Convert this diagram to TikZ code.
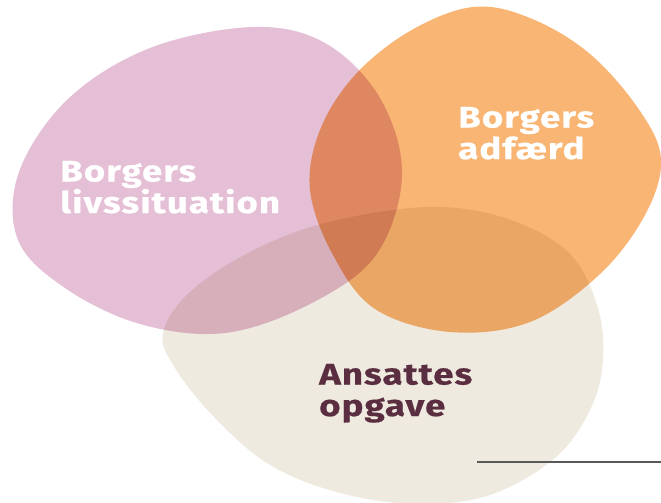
\documentclass[tikz,border=0pt]{standalone}
\usepackage{fontspec}
\newfontfamily\labfont[FakeStretch=1.23,LetterSpace=3.5,BoldFeatures={FakeStretch=1.23,LetterSpace=3.5,FakeBold=0.6}]{Fira Sans}
\definecolor{blobpink}{HTML}{E5BFD5}
\definecolor{bloborange}{HTML}{F9B573}
\definecolor{blobbeige}{HTML}{EFEAE0}
\definecolor{maroon}{HTML}{5A2E40}
\begin{document}
\begin{tikzpicture}[x=1pt,y=-1pt,
  lab/.style={font=\labfont\fontsize{29.8}{31.5}\selectfont\bfseries,align=left,inner sep=0pt,anchor=base west}]
\useasboundingbox (0,0) rectangle (661,503);
\begin{scope}[blend group=multiply]
\fill[blobpink] plot[smooth cycle,tension=0.6] coordinates {
 (253,27) (150,48) (68,99) (19,172) (18,240) (65,288) (140,324) (225,333)
 (310,304) (376,255) (402,175) (380,98) (325,43)};
\fill[bloborange] plot[smooth cycle,tension=0.6] coordinates {
 (473,7) (410,31) (355,75) (320,130) (310,190) (333,255) (375,309) (450,332)
 (530,322) (600,274) (645,215) (661,160) (640,111) (590,54) (530,18)};
\fill[blobbeige] plot[smooth cycle,tension=0.6] coordinates {
 (427,207) (505,218) (568,252) (597,305) (603,360) (590,410) (555,458)
 (490,495) (417,504) (340,493) (270,465) (215,418) (175,368) (163,333)
 (190,292) (250,252) (325,223)};
\end{scope}
\node[lab,text=white] (livs) at (60,213) {Borgers\\livssituation};
\node[lab,text=white] (adf) at (458,159) {Borgers\\adfærd};
\node[lab,text=maroon] (ans) at (319,416) {Ansattes\\opgave};
\coordinate (l1) at (477,462);
\coordinate (l2) at (661,462);
\draw[color=black!65,line width=1.2pt] (l1) -- (l2);
\end{tikzpicture}
\end{document}
